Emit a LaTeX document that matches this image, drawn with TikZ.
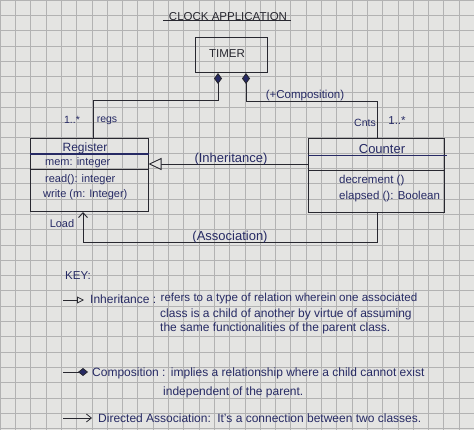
\documentclass[tikz,border=0pt]{standalone}
\usepackage{fontspec}
\setmainfont{Liberation Sans}
\usetikzlibrary{arrows.meta}
\definecolor{ink}{RGB}{38,42,100}
\definecolor{pen}{RGB}{40,40,48}
\definecolor{paper}{RGB}{228,228,226}
\definecolor{gridc}{RGB}{178,178,178}
\begin{document}
\begin{tikzpicture}[x=1pt,y=-1pt,
  box/.style={draw=pen,line width=1pt,inner sep=0pt},
  lbl/.style={text=ink,font=\fontsize{10.5}{12}\selectfont,inner sep=0pt},
  attr/.style={text=ink,font=\fontsize{11}{12}\selectfont,inner sep=0pt,anchor=west},
  keytxt/.style={text=ink,font=\fontsize{12}{14}\selectfont,inner sep=0pt,anchor=west},
  conn/.style={draw=pen,line width=0.9pt},
  comp/.style={conn,-{Diamond[length=11pt,width=8pt,fill=ink]}},
  inh/.style={conn,-{Triangle[open,length=13pt,width=12pt,fill=paper]}},
  assoc/.style={conn,-{Straight Barb[length=5pt,width=9pt]}},
  sep/.style={draw=pen,line width=0.6pt},
  thick sep/.style={draw=ink,line width=1.8pt}]
\useasboundingbox (0,0) rectangle (474,430);
\fill[paper] (0,0) rectangle (474,430);
\draw[gridc,line width=0.5pt,step=15.3pt] (0,0) grid (474,430);

% title
\node[text=pen,font=\fontsize{11.5}{13}\selectfont] (title) at (228,17) {CLOCK APPLICATION};
\draw[pen,line width=0.9pt] (title.south west) ++(-2,-4) coordinate (u1) -- (u1 -| title.south east);

% classes
\node[box,minimum width=72,minimum height=35] (tim) at (231,55) {};
\node[text=pen,font=\fontsize{11.5}{13}\selectfont] (timt) at (227,54) {TIMER};

\node[box,minimum width=118,minimum height=73] (reg) at (89,175) {};
\node[text=ink,font=\fontsize{12}{13}\selectfont,inner sep=0pt] (regt) at (85,148) {Register};
\draw[thick sep] ([yshift=-16pt]reg.north west) -- ([yshift=-16pt]reg.north east);
\draw[sep] ([yshift=-31pt]reg.north west) -- ([yshift=-31pt]reg.north east);
\node[attr] (mem) at (45,163) {mem: integer};
\node[attr] (rd) at (45,180) {read(): integer};
\node[attr] (wr) at (43,195) {write (m: Integer)};

\node[box,minimum width=136,minimum height=74] (cnt) at (376,176) {};
\node[text=ink,font=\fontsize{13}{14}\selectfont,inner sep=0pt] (cntt) at (382,149) {Counter};
\draw[thick sep] ([yshift=-17pt]cnt.north west) -- ([yshift=-17pt,xshift=2pt]cnt.north east);
\draw[sep] ([yshift=-32pt]cnt.north west) -- ([yshift=-32pt]cnt.north east);
\node[attr,font=\fontsize{11.5}{13}\selectfont] (dec) at (339,181) {decrement ()};
\node[attr,font=\fontsize{11.5}{13}\selectfont] (ela) at (339,197) {elapsed (): Boolean};

% connectors
\draw[comp] ([xshift=4pt]reg.north) -- ++(0,-38) -| ([xshift=-13pt]tim.south);
\draw[comp] ([xshift=1pt]cnt.north) -- ++(0,-37) -| ([xshift=15pt]tim.south);
\draw[inh] ([yshift=12pt]cnt.west) coordinate (i1) -- (i1 -| reg.east);
\draw[assoc] ([xshift=1pt]cnt.south) -- ++(0,29) -| ([xshift=-6pt]reg.south);

% connector labels
\node[lbl] (m1) at (72,120) {1..*};
\node[lbl] (regs) at (107,121) {regs};
\node[lbl,font=\fontsize{11.5}{13}\selectfont] (compl) at (305,96) {(+Composition)};
\node[lbl] (cnts) at (365,123) {Cnts};
\node[lbl,font=\fontsize{11.5}{13}\selectfont] (m2) at (397,121) {1..*};
\node[lbl,font=\fontsize{13}{14}\selectfont] (inhl) at (231,159) {(Inheritance)};
\node[lbl,font=\fontsize{13}{14}\selectfont] (asl) at (230,237) {(Association)};
\node[lbl,font=\fontsize{11}{12}\selectfont] (load) at (62,224) {Load};

% key
\node[keytxt,font=\fontsize{11.5}{13}\selectfont] (key) at (65,276) {KEY:};
\coordinate (k1a) at (63,300);
\coordinate (k1b) at (84,300);
\draw[conn,line width=0.8pt,-{Triangle[open,length=7pt,width=7pt]}] (k1a) -- (k1b);
\node[keytxt] (k1) at (90,299) {Inheritance :};
\node[keytxt,font=\fontsize{11.6}{14}\selectfont] (k1d) at ([xshift=4pt]k1.east) {refers to a type of relation wherein one associated};
\node[keytxt] (k1l2) at (160,314) {class is a child of another by virtue of assuming};
\node[keytxt] (k1l3) at (160,328) {the same functionalities of the parent class.};

\coordinate (k2a) at (63,372);
\coordinate (k2b) at (88,372);
\draw[conn,line width=0.8pt,-{Diamond[length=10pt,width=8pt,fill=ink]}] (k2a) -- (k2b);
\node[keytxt] (k2) at (92,373) {Composition :};
\node[keytxt] (k2d) at ([xshift=5pt]k2.east) {implies a relationship where a child cannot exist};
\node[keytxt] (k2l2) at (163,392) {independent of the parent.};

\coordinate (k3a) at (63,418);
\coordinate (k3b) at (92,418);
\draw[conn,line width=0.8pt,-{Straight Barb[length=5pt,width=8pt]}] (k3a) -- (k3b);
\node[keytxt] (k3) at (98,418) {Directed Association:};
\node[keytxt] (k3d) at ([xshift=6pt]k3.east) {It's a connection between two classes.};
\end{tikzpicture}
\end{document}
